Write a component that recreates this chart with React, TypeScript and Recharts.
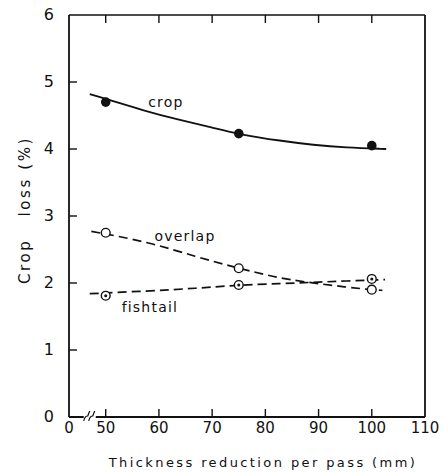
import React from 'react';
import { ComposedChart, Line, Scatter, XAxis, YAxis, ReferenceDot, Label } from 'recharts';

// x axis is broken: left edge labelled 0, real scale starts near 43
const X_MIN = 43.1;
const X_BREAK = 47;
const xTicks = [X_MIN, X_BREAK, 50, 60, 70, 80, 90, 100, 110];
const xTopTicks = [50, 60, 70, 80, 90, 100];
const yTicks = [0, 1, 2, 3, 4, 5, 6];
const yRightTicks = [1, 2, 3, 4, 5];

// measured points
const passes = [50, 75, 100];
const cropLoss = [4.7, 4.23, 4.05];
const overlapLoss = [2.75, 2.22, 1.9];
const fishtailLoss = [1.81, 1.97, 2.06];

// hand-drawn fitted curves
const cropCurveX = [47, 57.7, 64, 70, 75, 83, 89, 95, 102.7];
const cropCurveY = [4.82, 4.56, 4.43, 4.32, 4.22, 4.12, 4.06, 4.02, 4.0];
const overlapCurveX = [47.3, 57.7, 67, 75, 82.7, 89, 95, 100, 102];
const overlapCurveY = [2.77, 2.62, 2.39, 2.22, 2.07, 2.0, 1.94, 1.9, 1.89];
const fishtailCurveX = [47, 57.7, 67, 75, 82.7, 89, 95, 102.5];
const fishtailCurveY = [1.84, 1.88, 1.92, 1.97, 1.99, 2.01, 2.03, 2.05];

const zip = (xs: number[], ys: number[]) => xs.map((x, i) => ({ x, y: ys[i] }));

const cropPts = zip(passes, cropLoss);
const overlapPts = zip(passes, overlapLoss);
const fishtailPts = zip(passes, fishtailLoss);

const FONT = '"DejaVu Sans", sans-serif';
const INK = '#111';
const TICK = 8;

const BottomTick = (props: any) => {
    const { x, y, payload } = props;
    const v = payload.value;
    if (v === X_BREAK) {
        return (
            <g>
                <rect x={x - 6} y={y - 3} width={12} height={6} fill="#fff" />
                <path d={`M${x - 6},${y + 4} Q${x - 5},${y - 1} ${x - 2},${y - 1} Q${x - 1},${y - 4} ${x},${y - 6}`} stroke={INK} strokeWidth={1.2} fill="none" />
                <path d={`M${x - 1},${y + 4} Q${x},${y - 1} ${x + 3},${y - 1} Q${x + 4},${y - 4} ${x + 5},${y - 6}`} stroke={INK} strokeWidth={1.2} fill="none" />
            </g>
        );
    }
    return (
        <g>
            {v > X_MIN && v < 110 && <line x1={x} x2={x} y1={y} y2={y - TICK} stroke={INK} strokeWidth={1.4} />}
            <text x={x} y={y + 16} textAnchor="middle" fontSize={15} fontFamily={FONT} fill={INK}>
                {v === X_MIN ? '0' : v}
            </text>
        </g>
    );
};

const TopTick = (props: any) => {
    const { x, y } = props;
    return <line x1={x} x2={x} y1={y} y2={y + TICK} stroke={INK} strokeWidth={1.4} />;
};

const LeftTick = (props: any) => {
    const { x, y, payload } = props;
    const v = payload.value;
    return (
        <g>
            {v > 0 && v < 6 && <line x1={x} x2={x + TICK} y1={y} y2={y} stroke={INK} strokeWidth={1.4} />}
            <text x={x - 15} y={y + 5} textAnchor="end" fontSize={16} fontFamily={FONT} fill={INK}>
                {v}
            </text>
        </g>
    );
};

const RightTick = (props: any) => {
    const { x, y } = props;
    return <line x1={x - TICK} x2={x} y1={y} y2={y} stroke={INK} strokeWidth={1.4} />;
};

const FilledDot = (p: any) => <circle cx={p.cx} cy={p.cy} r={4.8} fill={INK} />;
const OpenDot = (p: any) => <circle cx={p.cx} cy={p.cy} r={4.4} fill="#fff" stroke={INK} strokeWidth={1.4} />;
const DottedDot = (p: any) => (
    <g>
        <circle cx={p.cx} cy={p.cy} r={4.4} fill="#fff" stroke={INK} strokeWidth={1.4} />
        <circle cx={p.cx} cy={p.cy} r={1.5} fill={INK} />
    </g>
);

const seriesText = (value: string) => ({
    value,
    position: 'center' as const,
    fontSize: 14,
    fontFamily: FONT,
    fill: INK,
    letterSpacing: 1.2,
});

const App: React.FC = () => {
    return (
        <div style={{ position: 'absolute', left: 0, top: 0, width: 444, height: 473, background: '#fff' }}>
            <ComposedChart width={444} height={473} margin={{ top: 14, right: 18, bottom: 0, left: 0 }}>
                <XAxis
                    dataKey="x"
                    type="number"
                    domain={[X_MIN, 110]}
                    ticks={xTicks}
                    interval={0}
                    allowDataOverflow
                    height={56}
                    tickSize={0}
                    tickMargin={0}
                    tick={<BottomTick />}
                    axisLine={{ stroke: INK, strokeWidth: 1.8 }}
                >
                    <Label
                        content={(p: any) => {
                            const vb = p.viewBox || { x: 69, y: 417, width: 356 };
                            return (
                                <text x={vb.x + vb.width / 2 + 16} y={vb.y + 50} textAnchor="middle" fontSize={13} fontFamily={FONT} letterSpacing={2.4} fill={INK}>
                                    Thickness reduction per pass (mm)
                                </text>
                            );
                        }}
                    />
                </XAxis>
                <XAxis
                    xAxisId="top"
                    orientation="top"
                    dataKey="x"
                    type="number"
                    domain={[X_MIN, 110]}
                    ticks={xTopTicks}
                    interval={0}
                    allowDataOverflow
                    height={1}
                    tickSize={0}
                    tickMargin={0}
                    tick={<TopTick />}
                    axisLine={{ stroke: INK, strokeWidth: 1.5 }}
                />
                <YAxis
                    type="number"
                    domain={[0, 6]}
                    ticks={yTicks}
                    interval={0}
                    width={69}
                    tickSize={0}
                    tickMargin={0}
                    tick={<LeftTick />}
                    axisLine={{ stroke: INK, strokeWidth: 1.8 }}
                >
                    <Label
                        content={(p: any) => {
                            const vb = p.viewBox || { x: 0, y: 15, height: 402 };
                            const cx = vb.x + 25;
                            const cy = vb.y + vb.height / 2 - 6;
                            return (
                                <text x={cx} y={cy} transform={`rotate(-90 ${cx} ${cy})`} textAnchor="middle" dominantBaseline="central" fontSize={15} fontFamily={FONT} letterSpacing={2.6} fill={INK} style={{ whiteSpace: 'pre' }}>
                                    {'Crop   loss (%)'}
                                </text>
                            );
                        }}
                    />
                </YAxis>
                <YAxis
                    yAxisId="right"
                    orientation="right"
                    type="number"
                    domain={[0, 6]}
                    ticks={yRightTicks}
                    interval={0}
                    width={1}
                    tickSize={0}
                    tickMargin={0}
                    tick={<RightTick />}
                    axisLine={{ stroke: INK, strokeWidth: 1.8 }}
                />

                <Line data={zip(cropCurveX, cropCurveY)} dataKey="y" type="basis" stroke={INK} strokeWidth={1.8} dot={false} activeDot={false} isAnimationActive={false} />
                <Line data={zip(overlapCurveX, overlapCurveY)} dataKey="y" type="basis" stroke={INK} strokeWidth={1.7} strokeDasharray="9 5" dot={false} activeDot={false} isAnimationActive={false} />
                <Line data={zip(fishtailCurveX, fishtailCurveY)} dataKey="y" type="basis" stroke={INK} strokeWidth={1.7} strokeDasharray="9 5" dot={false} activeDot={false} isAnimationActive={false} />

                <Scatter data={cropPts} dataKey="y" shape={<FilledDot />} isAnimationActive={false} />
                <Scatter data={overlapPts} dataKey="y" shape={<OpenDot />} isAnimationActive={false} />
                <Scatter data={fishtailPts} dataKey="y" shape={<DottedDot />} isAnimationActive={false} />

                <ReferenceDot x={61.3} y={4.7} r={0} fill="none" stroke="none" label={seriesText('crop')} />
                <ReferenceDot x={64.9} y={2.7} r={0} fill="none" stroke="none" label={seriesText('overlap')} />
                <ReferenceDot x={58.3} y={1.64} r={0} fill="none" stroke="none" label={seriesText('fishtail')} />
            </ComposedChart>
        </div>
    );
};

export default App;
